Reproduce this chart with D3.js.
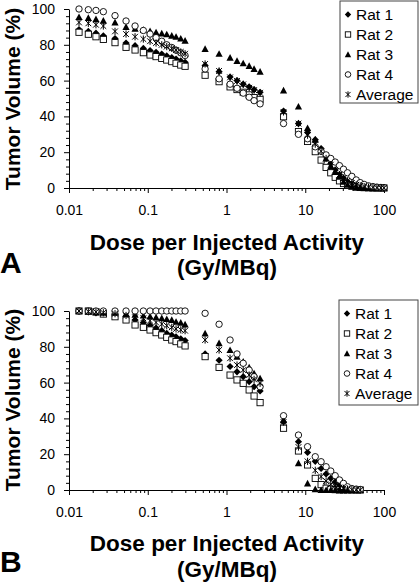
<!DOCTYPE html>
<html>
<head>
<meta charset="utf-8">
<script src="https://cdn.jsdelivr.net/npm/d3@7"></script>
<style>
  html, body { margin: 0; padding: 0; background: #fff; }
  svg { display: block; font-family: "Liberation Sans", Arial, sans-serif; }
</style>
</head>
<body>
<svg id="chart" width="420" height="583"></svg>
<script>
// ---------------- DATA ----------------
const seriesNames = ["Rat 1", "Rat 2", "Rat 3", "Rat 4", "Average"];
const xTickValues = [0.01, 0.1, 1, 10, 100];
const xTickLabels = ["0.01", "0.1", "1", "10", "100"];
const yTickValues = [0, 20, 40, 60, 80, 100];

// Dose per injected activity (Gy/MBq)
const doses = [0.0134, 0.0176, 0.022, 0.0273,
  0.0384, 0.053, 0.069, 0.0879, 0.107, 0.1275, 0.1506, 0.1743, 0.2018, 0.2288, 0.2626, 0.2979,
  0.535, 0.805, 1.11, 1.36, 1.63, 1.94, 2.24, 2.67,
  5.3, 8.2, 10.7, 13.4, 15.9, 18.4, 21.1, 24, 27.2, 30.6, 34.4, 39.1, 44.4, 49.9, 56, 63.6, 72.3, 81.3, 91.4, 100];

// Panel A
const aRat1 = [88.5, 87.5, 86.5, 85,
  83.5, 81, 79.5, 78, 76.8, 75.8, 74.8, 73.8, 72.9, 72, 71, 70.2,
  68.5, 65, 62, 60, 58, 56.5, 55, 53.5,
  43, 36, 31, 27, 22, 17.5, 13.5, 10, 7.5, 5.5, 3.5, 2.2, 1.3, 0.8, 0.5, 0.3, 0.2, 0.1, 0, 0];
const aRat2 = [87, 85.9, 84.5, 83,
  81.2, 78.6, 77.1, 75.6, 74.3, 73.4, 72.4, 71.5, 70.6, 69.7, 68.7, 68,
  63, 59.4, 56.5, 55, 53.5, 52, 50.5, 49.5,
  39.8, 31.5, 26, 20.3, 15.6, 11.5, 8.5, 6, 4, 2.5, 1.5, 1, 0.5, 0.3, 0.2, 0.1, 0, 0, 0, 0];
const aRat3 = [95.5, 95, 94.3, 93.5,
  92.5, 90, 89, 88.3, 87.7, 87, 86.4, 85.9, 85.1, 84.5, 83.5, 82.3,
  77.7, 75, 72.8, 71, 69.7, 68.2, 66.5, 65,
  54.5, 45.5, 33.5, 27, 21, 16.5, 12, 9, 6.3, 3.5, 1.8, 1, 0.5, 0.2, 0, 0, 0, 0, 0, 0];
const aRat4 = [100, 99.6, 99.2, 98.5,
  96.3, 93.3, 90.5, 88, 86, 84, 82, 80, 78.5, 77, 75.5, 74,
  66.5, 61, 58, 55.7, 53, 50.7, 48.8, 47,
  36, 30, 27.5, 23, 20.5, 18.5, 16.5, 14.5, 12.5, 10.5, 8.5, 6.5, 4.5, 3, 2, 1.2, 0.8, 0.5, 0.3, 0.2];
const aAverage = [92.5, 92, 91.2, 90.5,
  87.5, 86, 84.5, 83.2, 82, 81, 80, 79, 78, 77, 76, 75,
  69.3, 65.4, 61.8, 59.8, 57.9, 56, 54.7, 53.2,
  42.5, 36, 29.5, 24.5, 20.5, 16.5, 13, 10, 7.5, 5.5, 4, 2.8, 1.8, 1.2, 0.8, 0.5, 0.3, 0.2, 0.1, 0.1];

// Panel B (first 38 doses)
const bRat1 = [100, 99.5, 99, 98.5,
  98, 97, 95, 93.5, 92, 90.5, 89, 87.5, 86.5, 85.5, 84.5, 83.5,
  76, 72.5, 69, 66, 63.3, 60.5, 57.7, 55.3,
  38, 27, 21, 16, 12, 9, 6.5, 4.5, 2.8, 1.5, 0.6, 0.2, 0, 0];
const bRat2 = [100, 100, 99.6, 98.3,
  96.8, 95, 92.2, 90.9, 89.4, 87.9, 86.6, 85.3, 83.8, 82.9, 81.6, 80.5,
  74.5, 68.5, 64.2, 61.5, 59.6, 55.9, 52.5, 48.8,
  34.5, 21.8, 14, 6.5, 3, 1, 0.5, 0.2, 0, 0, 0, 0, 0, 0];
const bRat3 = [100, 99.6, 99.2, 99,
  99, 98.5, 98, 97.5, 97, 96.5, 96, 95.5, 95, 94, 93.5, 92.5,
  87.5, 82, 78.2, 74.5, 71.7, 68.5, 65.2, 62.4,
  39, 15, 3.7, 0.5, 0, 0, 0, 0, 0, 0, 0, 0, 0, 0];
const bRat4 = [100, 100, 100, 100,
  100, 100, 100, 100, 100, 100, 100, 100, 100, 100, 100, 100,
  98.7, 92.6, 83.8, 76, 70.8, 67, 63.3, 57.7,
  41.5, 30.7, 24.2, 18.6, 15.8, 13, 10.6, 8, 5.6, 3.7, 1.8, 0.8, 0.5, 0.3];
const bAverage = [100, 99.7, 99.5, 99,
  98.5, 97.5, 96.5, 95.9, 94.6, 93.6, 92.7, 91.8, 90.9, 90, 89.5, 89,
  83.8, 78.2, 73.6, 69.8, 67, 64.2, 61.8, 59.6,
  38, 24, 16, 11, 7.5, 5, 3.2, 2.2, 1.4, 0.9, 0.5, 0.2, 0.1, 0];

// ---------------- DRAWING ----------------
const svg = d3.select("#chart");

const markerKinds = ["diamond", "square", "triangle", "circle", "star"];

function drawMarker(sel, kind, s) {
  if (kind === "diamond") {
    sel.append("path").attr("d", `M0,${-s}L${s},0L0,${s}L${-s},0Z`).attr("fill", "#000");
  } else if (kind === "square") {
    sel.append("rect").attr("x", -s + 0.5).attr("y", -s + 0.5).attr("width", 2 * s - 1).attr("height", 2 * s - 1)
      .attr("fill", "#fff").attr("stroke", "#000").attr("stroke-width", 0.9);
  } else if (kind === "triangle") {
    sel.append("path").attr("d", `M0,${-s}L${s},${s * 0.85}L${-s},${s * 0.85}Z`).attr("fill", "#000");
  } else if (kind === "circle") {
    sel.append("circle").attr("r", s - 0.4).attr("fill", "#fff").attr("stroke", "#000").attr("stroke-width", 0.9);
  } else if (kind === "star") {
    const k = s * 0.8;
    sel.append("path").attr("d", `M${-k},${-k}L${k},${k}M${-k},${k}L${k},${-k}M0,${-s}L0,${s}`)
      .attr("stroke", "#000").attr("stroke-width", 1).attr("fill", "none");
  }
}

function drawPanel(cfg) {
  const x = d3.scaleLog().domain([0.01, 100]).range([69, 384]);
  const y = d3.scaleLinear().domain([0, 100]).range([cfg.yBottom, cfg.yTop]);
  const g = svg.append("g");

  // y axis minor ticks
  const yMinor = d3.range(0, 101, 4).filter(v => v % 20 !== 0);
  g.append("g").attr("transform", "translate(69,0)")
    .call(d3.axisLeft(y).tickValues(yMinor).tickSize(3).tickSizeOuter(0).tickFormat(""))
    .call(a => a.select(".domain").remove());
  // y axis major
  g.append("g").attr("transform", "translate(69,0)")
    .call(d3.axisLeft(y).tickValues(yTickValues).tickSize(5).tickSizeOuter(0).tickPadding(9))
    .call(a => a.selectAll("text").attr("font-size", 14).attr("fill", "#000").attr("font-family", "Liberation Sans, Arial, sans-serif"));

  // x axis minor ticks
  const xMinor = [];
  for (let e = -2; e < 2; e++) for (let m = 2; m <= 9; m++) xMinor.push(m * Math.pow(10, e));
  g.append("g").attr("transform", `translate(0,${cfg.yBottom})`)
    .call(d3.axisBottom(x).tickValues(xMinor).tickSize(3).tickSizeOuter(0).tickFormat(""))
    .call(a => a.select(".domain").remove());
  // x axis major
  g.append("g").attr("transform", `translate(0,${cfg.yBottom})`)
    .call(d3.axisBottom(x).tickValues(xTickValues).tickSize(5).tickSizeOuter(0).tickPadding(12)
      .tickFormat((d, i) => xTickLabels[i]))
    .call(a => a.selectAll("text").attr("font-size", 14).attr("fill", "#000").attr("font-family", "Liberation Sans, Arial, sans-serif"));

  g.selectAll(".domain").attr("stroke", "#000");
  g.selectAll(".tick line").attr("stroke", "#000");

  // series (drawn in order so later series sit on top)
  cfg.series.forEach((vals, si) => {
    const kind = markerKinds[si];
    const pts = g.append("g");
    vals.forEach((v, i) => {
      const m = pts.append("g").attr("transform", `translate(${x(doses[i])},${y(v)})`);
      drawMarker(m, kind, 3.6);
    });
  });

  // legend
  const lg = g.append("g");
  lg.append("rect").attr("x", cfg.legend.x).attr("y", cfg.legend.y)
    .attr("width", cfg.legend.w).attr("height", cfg.legend.h)
    .attr("fill", "#fff").attr("stroke", "#444").attr("stroke-width", 1);
  seriesNames.forEach((name, i) => {
    const cy = cfg.legend.y + 13.5 + i * 20;
    const m = lg.append("g").attr("transform", `translate(${cfg.legend.x + 8},${cy})`);
    drawMarker(m, markerKinds[i], 3.2);
    lg.append("text").attr("x", cfg.legend.x + 16).attr("y", cy + 5.5)
      .attr("font-size", 15.5).attr("fill", "#000").text(name);
  });

  // axis titles
  g.append("text").attr("transform", `translate(19.5,${cfg.yTitleCenter}) rotate(-90)`)
    .attr("text-anchor", "middle").attr("font-size", 21).attr("font-weight", "bold").attr("fill", "#000")
    .text("Tumor Volume (%)");
  g.append("text").attr("x", 227).attr("y", cfg.xTitle1)
    .attr("text-anchor", "middle").attr("font-size", 22.5).attr("font-weight", "bold").attr("fill", "#000")
    .text("Dose per Injected Activity");
  g.append("text").attr("x", 227).attr("y", cfg.xTitle2)
    .attr("text-anchor", "middle").attr("font-size", 22.5).attr("font-weight", "bold").attr("fill", "#000")
    .text("(Gy/MBq)");
  g.append("text").attr("x", 0).attr("y", cfg.letterY)
    .attr("font-size", 30).attr("font-weight", "bold").attr("fill", "#000")
    .text(cfg.letter);
}

drawPanel({
  yTop: 9, yBottom: 188,
  series: [aRat1, aRat2, aRat3, aRat4, aAverage],
  legend: { x: 340, y: 1, w: 78, h: 102 },
  yTitleCenter: 99, xTitle1: 249.5, xTitle2: 275, letterY: 273, letter: "A"
});
drawPanel({
  yTop: 311, yBottom: 490,
  series: [bRat1, bRat2, bRat3, bRat4, bAverage],
  legend: { x: 339, y: 300, w: 79, h: 105 },
  yTitleCenter: 400, xTitle1: 551, xTitle2: 576.5, letterY: 572, letter: "B"
});
</script>
</body>
</html>
